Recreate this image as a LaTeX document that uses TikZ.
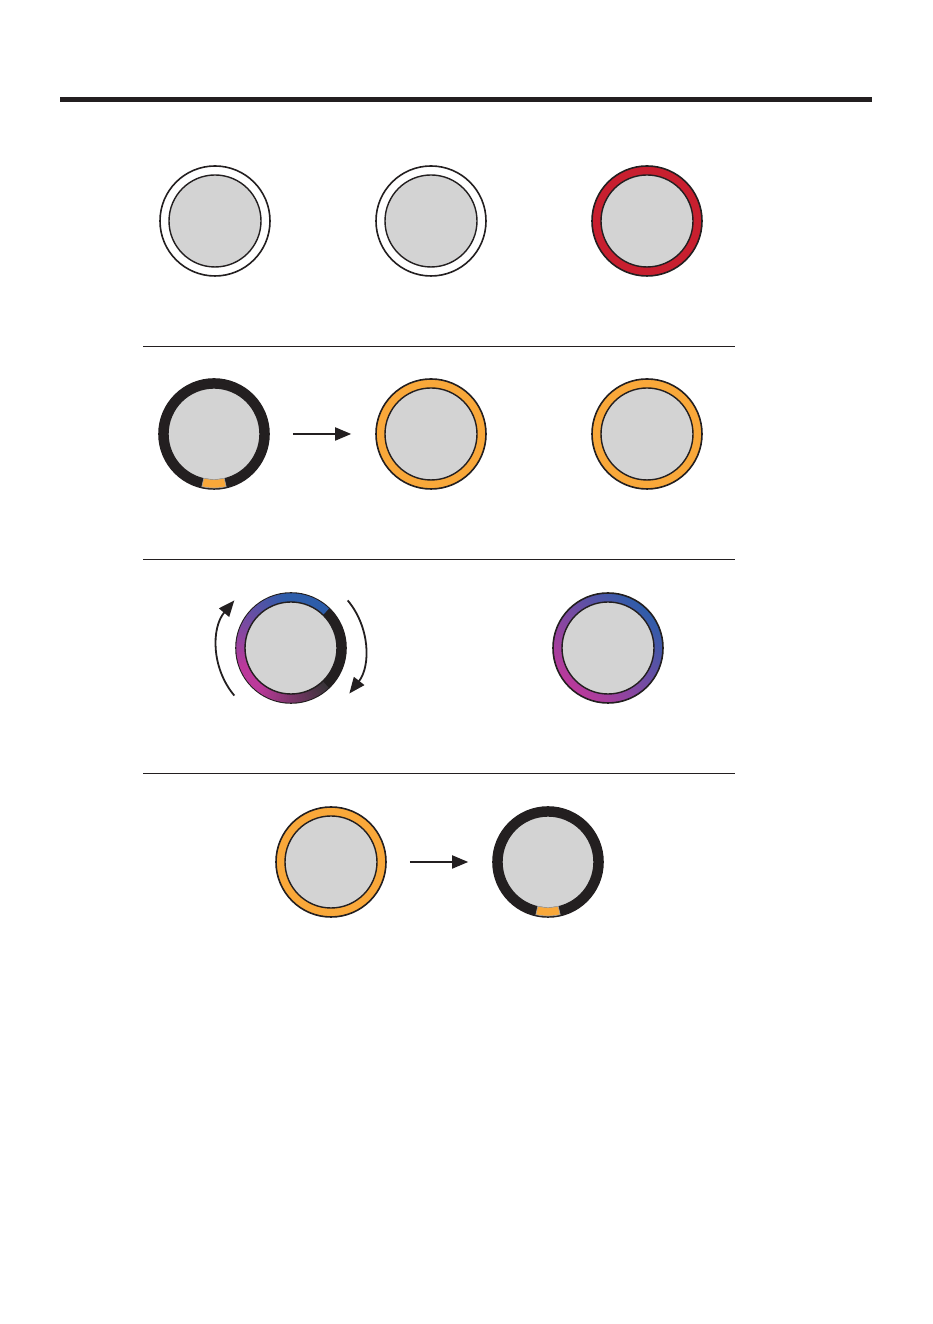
\documentclass[tikz,border=0pt]{standalone}
\usepackage{tikz}
\usetikzlibrary{positioning,arrows.meta}
\definecolor{ringblack}{HTML}{231F20}
\definecolor{ringdim}{HTML}{3A3339}
\definecolor{ringorange}{HTML}{F9A83A}
\definecolor{ringred}{HTML}{C81F2F}
\definecolor{ringblue}{HTML}{2D5DAA}
\definecolor{ringmagenta}{HTML}{BC399B}
\definecolor{capgrey}{HTML}{D3D3D3}
\begin{document}
\begin{tikzpicture}[
            x=1pt, y=1pt,
            node distance=216pt, on grid,
            knobnode/.style={circle, draw=ringblack, line width=1.6pt, inner sep=0pt, minimum size=110pt},
            capnode/.style={circle, draw=ringblack, fill=capgrey, line width=1.4pt, inner sep=0pt, minimum size=92pt},
            marknode/.style={fill=ringorange, draw=gray!70, line width=0.6pt},
            rule/.style={ringblack, line width=1pt},
            pointer/.style={ringblack, line width=1.8pt, -{Triangle[length=16pt, width=13pt]}},
        ]
        \useasboundingbox (0,0) rectangle (933,1324);
        \draw[ringblack, line width=5pt] (60,1224.5) -- (872,1224.5);
        \draw[rule] (143,977) -- (735,977);
        \draw[rule] (143,764) -- (735,764);
        \draw[rule] (143,550) -- (735,550);

        \node[knobnode, fill=white] (knobA) at (215,1103) {};
        \node[knobnode, fill=white] (knobB) [right=of knobA] {};
        \node[knobnode, fill=ringred] (knobC) [right=of knobB] {};

        \node[knobnode, fill=ringblack] (knobD) at (214,890) {};
        \node[knobnode, fill=ringorange] (knobE) [right=217pt of knobD] {};
        \node[knobnode, fill=ringorange] (knobF) [right=of knobE] {};

        \node[knobnode, fill=ringblack] (knobG) at (291,676) {};
        \node[knobnode, top color=ringblue, bottom color=ringmagenta, shading angle=-45] (knobH) [right=317pt of knobG] {};

        \node[knobnode, fill=ringorange] (knobI) at (331,462) {};
        \node[knobnode, fill=ringblack] (knobJ) [right=217pt of knobI] {};

        \foreach \a in {46,49,...,310}{
            \pgfmathsetmacro\mixA{max(0,min(100,(\a-95)/105*100))}
            \pgfmathsetmacro\mixB{max(0,min(100,(\a-230)/80*100))}
            \colorlet{segcolor}{ringmagenta!\mixA!ringblue}
            \colorlet{segcolor}{ringdim!\mixB!segcolor}
            \draw[segcolor, line width=8.4pt] ([shift={(\a:50.5pt)}]knobG.center) arc[start angle=\a, end angle=\a+3.6, radius=50.5pt];
        }

        \foreach \k in {A,B,C,D,E,F,G,H,I,J}
            \node[capnode] (cap\k) at (knob\k) {};

        \foreach \k in {D,J}
            \filldraw[marknode] ([shift={(257:45.5pt)}]knob\k.center) arc[start angle=257, end angle=283, radius=45.5pt]
                -- ([shift={(283:54pt)}]knob\k.center) arc[start angle=283, end angle=257, radius=54pt] -- cycle;

        \draw[pointer, shorten <=23pt, shorten >=24pt] (knobD) -- (knobE);
        \draw[pointer, shorten <=23pt, shorten >=24pt] (knobI) -- (knobJ);

        \coordinate (turnA) at ([shift={(220:74pt)}]knobG.center);
        \coordinate (turnB) at ([shift={(40:74pt)}]knobG.center);
        \draw[pointer] (turnA) arc[start angle=220, end angle=140, radius=74pt];
        \draw[pointer] (turnB) arc[start angle=40, end angle=-38, radius=74pt];
    \end{tikzpicture}
\end{document}
